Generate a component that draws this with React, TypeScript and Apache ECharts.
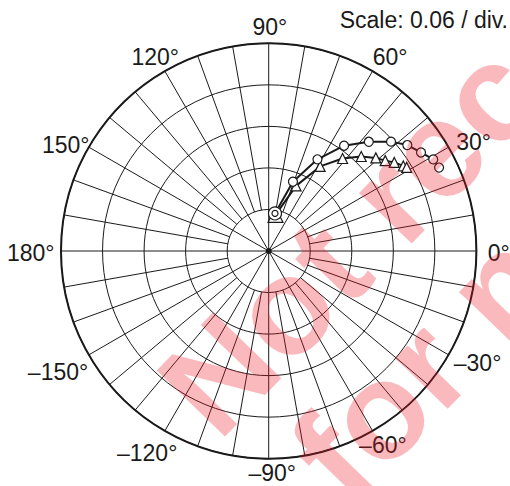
import React, { useEffect, useRef } from 'react';
import * as echarts from 'echarts';

// Scale: 0.06 per division, 5 divisions
const RING_STEP = 0.06;
const RING_MAX = 0.3;

// Series 1 (open circles): radius (magnitude) and angle in degrees
const circleR = [0.055, 0.106, 0.150, 0.187, 0.214, 0.237, 0.252, 0.262, 0.272, 0.274];
const circleA = [80.5, 70.7, 62.0, 54.4, 47.5, 41.8, 37.4, 32.9, 29.1, 26.1];

// Series 2 (open triangles)
const triR = [0.053, 0.102, 0.143, 0.171, 0.191, 0.205, 0.213, 0.222, 0.230, 0.233];
const triA = [79.3, 67.2, 58.7, 51.4, 45.6, 41.0, 37.8, 35.2, 32.3, 31.2];

// Angle grid: spokes every 10 degrees, labels every 30 degrees
const spokeAngles = Array.from({ length: 36 }, (_, i) => i * 10);
const labelAngles = [0, 30, 60, 90, 120, 150, 180, 210, 240, 270, 300, 330];

// layout (not data): where each angle label's centre sits (distance in px, small angular nudge in deg)
const LABEL_DIST_PX = [230, 232, 229, 224, 225, 229, 238, 243, 236, 222, 225, 237];
const LABEL_NUDGE_DEG = [-0.5, -2, -2, -0.3, 0.3, 2.4, 0.5, -0.1, -1, 0.9, 0.5, 1.8];

const CENTER: [number, number] = [268.7, 251];
const RADIUS_PX = 207.7;

const FONT = '"Liberation Sans", Arial, Helvetica, sans-serif';
const INK = '#1a1a1a';

function angleLabel(v: number): string {
  const d = v > 180 ? v - 360 : v;
  return (d < 0 ? '\u2013' + -d : String(d)) + '\u00b0';
}

export default function App() {
  const ref = useRef<HTMLDivElement>(null);

  useEffect(() => {
    if (!ref.current) return;
    const chart = echarts.init(ref.current, null, { renderer: 'svg' });

    const spokeSeries = spokeAngles.map((a) => ({
      type: 'line',
      coordinateSystem: 'polar',
      silent: true,
      symbol: 'none',
      z: 1,
      lineStyle: { color: INK, width: 1 },
      data: [
        [a % 30 === 0 ? 0 : RING_STEP, a],
        [RING_MAX, a],
      ],
    }));

    const wmStyle = {
      fill: 'rgba(237,28,36,0.3)',
      font: 'bold 138px ' + FONT,
      textAlign: 'left',
      textVerticalAlign: 'middle',
      align: 'left',
      verticalAlign: 'middle',
    };
    const wmRot = (46 * Math.PI) / 180;

    chart.setOption({
      animation: false,
      title: {
        text: 'Scale: 0.06 / div.',
        right: 2,
        top: 8,
        padding: 0,
        textStyle: { fontFamily: FONT, fontSize: 23, fontWeight: 'normal', color: INK },
      },
      polar: { center: CENTER, radius: RADIUS_PX },
      angleAxis: {
        type: 'value',
        min: 0,
        max: 360,
        interval: 10,
        startAngle: 0,
        clockwise: false,
        axisLine: { show: true, lineStyle: { color: INK, width: 2 } },
        axisTick: { show: false },
        splitLine: { show: false },
        axisLabel: { show: false },
      },
      radiusAxis: {
        type: 'value',
        min: 0,
        max: RING_MAX,
        interval: RING_STEP,
        axisLine: { show: false },
        axisTick: { show: false },
        axisLabel: { show: false },
        splitLine: { show: true, lineStyle: { color: INK, width: 1 } },
      },
      series: [
        ...spokeSeries,
        {
          name: 'angleLabels',
          type: 'scatter',
          coordinateSystem: 'polar',
          silent: true,
          clip: false,
          symbol: 'circle',
          symbolSize: 1,
          itemStyle: { color: 'transparent', opacity: 1 },
          label: {
            show: true,
            position: 'inside',
            fontFamily: FONT,
            fontSize: 23,
            color: INK,
            opacity: 1,
            textBorderWidth: 0,
            formatter: (p: any) => angleLabel(p.data.tick),
          },
          data: labelAngles.map((a, i) => ({
            tick: a,
            value: [(LABEL_DIST_PX[i] / RADIUS_PX) * RING_MAX, a + LABEL_NUDGE_DEG[i]],
          })),
        },
        {
          type: 'scatter',
          coordinateSystem: 'polar',
          silent: true,
          symbol: 'circle',
          symbolSize: 6,
          z: 2,
          itemStyle: { color: INK, opacity: 1 },
          data: [[0, 0]],
        },
        {
          name: 'triangles',
          type: 'line',
          coordinateSystem: 'polar',
          symbol: 'triangle',
          symbolSize: 10,
          z: 3,
          lineStyle: { color: INK, width: 2 },
          itemStyle: { color: '#ffffff', borderColor: INK, borderWidth: 1.2 },
          data: triR.map((r, i) =>
            i === 0 ? { value: [r, triA[i]], symbolSize: 15 } : [r, triA[i]]
          ),
        },
        {
          name: 'circles',
          type: 'line',
          coordinateSystem: 'polar',
          symbol: 'circle',
          symbolSize: 9,
          z: 4,
          lineStyle: { color: INK, width: 2 },
          itemStyle: { color: '#ffffff', borderColor: INK, borderWidth: 1.2 },
          data: circleR.map((r, i) =>
            i === 0 ? { value: [r, circleA[i]], symbolSize: 13 } : [r, circleA[i]]
          ),
        },
        {
          name: 'start',
          type: 'scatter',
          coordinateSystem: 'polar',
          silent: true,
          symbol: 'circle',
          symbolSize: 6,
          z: 5,
          itemStyle: { color: '#ffffff', borderColor: INK, borderWidth: 1.2, opacity: 1 },
          data: [[circleR[0], circleA[0]]],
        },
      ],
      graphic: [
        {
          type: 'text',
          x: 184,
          y: 410,
          rotation: wmRot,
          z: 100,
          silent: true,
          style: { ...wmStyle, text: 'Not recommended' },
        },
        {
          type: 'text',
          x: 316,
          y: 476,
          rotation: wmRot,
          z: 100,
          silent: true,
          style: { ...wmStyle, text: 'for new designs' },
        },
      ],
    });

    return () => chart.dispose();
  }, []);

  return (
    <div
      ref={ref}
      style={{ position: 'absolute', left: 0, top: 0, width: 510, height: 486, background: '#fff' }}
    />
  );
}
